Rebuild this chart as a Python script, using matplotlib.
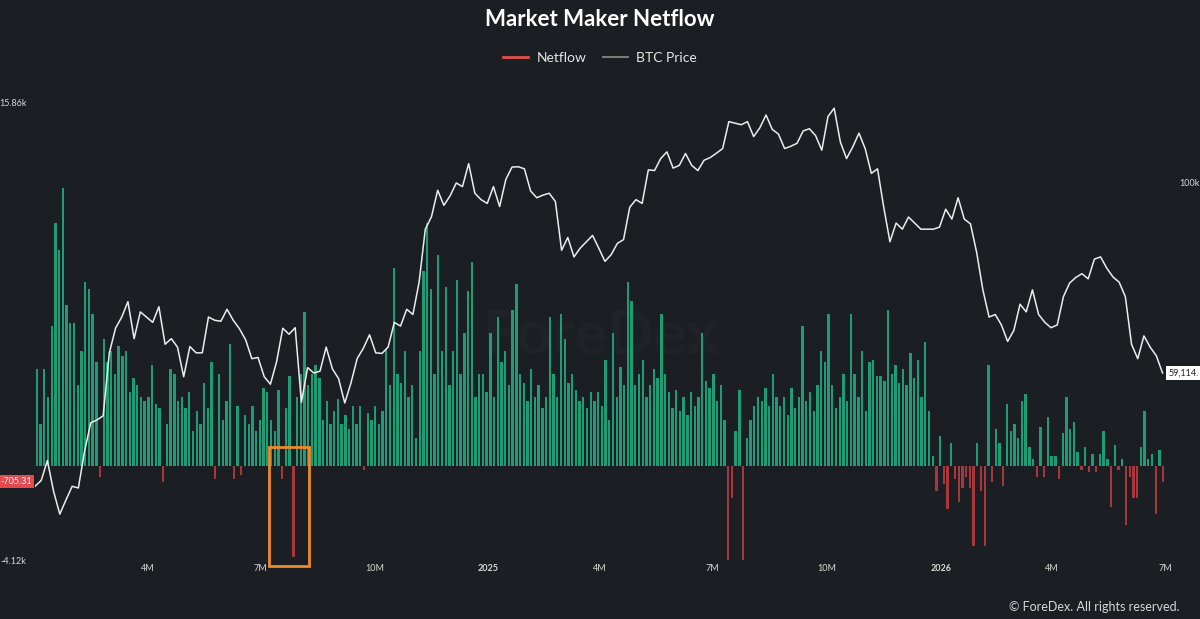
import matplotlib
matplotlib.use("Agg")
import matplotlib.dates as mdates
import matplotlib.pyplot as plt
import matplotlib.transforms as mtransforms
import pandas as pd
from matplotlib.lines import Line2D
from matplotlib.patches import Rectangle
from matplotlib.ticker import NullFormatter, NullLocator

plt.rcParams["font.family"] = ["Lato", "DejaVu Sans"]

BG = "#1b1e22"
GREEN = "#1f9c74"
RED = "#a8373b"
TEXT = "#d8d8d8"

START = pd.Timestamp("2024-01-01")
END = pd.Timestamp("2026-07-01")

# netflow, thousands, one value per 3 days from 2024-01-01
netflow_k = [
    4.2, 1.8, 4.2, 3.0, 6.1, 10.6, 9.4, 12.1, 7.0, 6.2,
    6.2, 3.5, 5.0, 8.0, 7.7, 6.6, 4.5, -0.5, 5.5, 4.5,
    5.0, 4.0, 5.2, 4.8, 5.0, 3.2, 3.8, 3.5, 3.0, 2.8,
    3.0, 4.4, 2.7, 2.5, -0.7, 1.8, 4.2, 4.0, 2.8, 3.0,
    2.5, 3.2, 1.5, 2.4, 1.8, 3.6, 2.5, 4.5, -0.6, 4.0,
    2.0, 2.8, 5.3, -0.6, 2.6, -0.4, 2.2, 1.8, 2.6, 1.5,
    2.0, 3.4, 3.2, 2.0, 1.5, 3.3, -0.6, 2.5, 3.9, -4.0,
    3.0, 4.0, 6.7, 3.5, 4.0, 4.4, 3.8, 2.0, 2.8, 1.8,
    2.4, 2.9, 1.8, 2.2, 1.6, 2.6, 1.8, 2.6, -0.2, 2.3,
    2.0, 2.6, 1.8, 2.4, 5.1, 3.5, 8.6, 4.0, 3.6, 5.0,
    3.0, 3.5, 1.2, 5.0, 8.5, 10.6, 7.7, 4.0, 9.2, 5.0,
    7.8, 3.5, 5.0, 8.1, 4.0, 5.8, 7.6, 8.9, 3.0, 4.0,
    4.0, 3.2, 5.8, 3.0, 6.5, 4.5, 5.0, 3.5, 6.8, 7.9,
    4.0, 3.6, 2.8, 4.2, 3.0, 3.5, 2.5, 3.0, 6.5, 4.0,
    3.0, 6.6, 5.5, 3.6, 4.0, 3.3, 2.8, 3.0, 2.5, 3.2,
    2.8, 3.2, 2.6, 4.6, 2.0, 5.8, 3.0, 4.3, 3.5, 8.0,
    7.2, 3.5, 4.0, 4.6, 3.0, 3.5, 4.2, 3.8, 6.6, 4.0,
    3.2, 2.5, 3.3, 2.4, 3.0, 2.2, 3.2, 2.6, 3.0, 5.8,
    3.7, 3.4, 4.0, 2.8, 3.5, 2.0, -4.1, -1.4, 1.5, 3.3,
    -4.1, 1.2, 2.0, 2.6, 3.0, 2.8, 3.4, 2.6, 4.0, 3.0,
    2.6, 3.0, 2.2, 3.4, 2.5, 3.0, 6.1, 2.8, 3.2, 2.4,
    3.5, 5.0, 4.5, 6.6, 3.5, 2.5, 3.0, 4.0, 2.8, 6.6,
    4.0, 3.0, 5.0, 2.4, 4.5, 4.6, 3.9, 3.9, 3.7, 6.8,
    4.0, 4.4, 3.6, 4.2, 3.5, 4.9, 3.8, 4.6, 3.0, 5.4,
    2.4, 0.4, -1.1, 1.3, -0.8, -1.9, 1.0, -0.6, -1.6, -1.0,
    -0.5, -1.0, -3.5, 1.0, -1.1, -3.5, 4.4, -0.7, 1.6, 1.0,
    -0.9, 2.7, 1.5, 1.8, 1.2, 2.8, 3.1, 0.8, 0.3, -0.5,
    1.7, -0.5, 2.1, 0.4, 0.4, -0.6, 1.4, 3.0, 1.6, 1.9,
    0.6, -0.2, 0.8, -0.3, 0.5, -0.3, 0.5, 1.5, 0.3, -1.8,
    0.9, -0.2, 0.3, -2.6, -0.5, -1.4, -1.4, 0.8, 2.4, 0.3,
    0.5, -2.1, 0.7, -0.70531,
]

# BTC price, thousands USD, one value per 5 days from 2024-01-01
price_k = [
    43.2, 43.9, 46.4, 42.6, 40.0, 41.6, 43.2, 43.0, 47.6, 51.5,
    51.9, 52.5, 62.5, 66.9, 69.0, 72.0, 65.0, 70.0, 69.0, 68.0,
    71.0, 64.0, 65.0, 63.5, 58.5, 63.6, 62.5, 62.5, 69.0, 68.4,
    68.2, 70.5, 68.4, 66.8, 64.8, 61.5, 61.7, 58.5, 57.3, 61.0,
    66.9, 65.8, 67.0, 54.5, 60.0, 59.1, 59.4, 63.5, 59.8, 58.2,
    54.4, 57.5, 61.5, 63.3, 65.7, 62.5, 62.4, 63.5, 68.0, 67.3,
    70.5, 69.5, 76.0, 88.0, 91.1, 98.0, 94.0, 96.5, 100.0, 99.0,
    105.5, 97.2, 95.5, 94.5, 99.0, 93.7, 101.0, 104.5, 104.6, 104.0,
    97.8, 96.0, 96.7, 97.2, 95.0, 83.0, 86.0, 81.5, 83.5, 85.0,
    86.5, 83.5, 80.5, 82.0, 84.6, 85.5, 93.5, 95.5, 94.5, 103.7,
    103.5, 107.0, 109.0, 104.2, 105.0, 108.5, 105.0, 103.5, 106.5, 107.3,
    108.6, 110.0, 118.5, 118.0, 117.5, 118.5, 113.7, 116.5, 120.7, 116.0,
    114.5, 110.0, 110.7, 111.6, 115.5, 116.2, 114.0, 109.5,
    120.2, 123.0, 112.0, 107.0, 110.5, 114.8, 110.0, 102.7, 104.0, 93.5,
    85.0, 89.5, 88.0, 91.0, 89.5, 88.0, 88.0, 88.0, 88.5, 93.0,
    90.5, 96.0, 90.5, 89.3, 82.5, 74.4, 69.0, 69.5, 67.5, 64.5,
    66.5, 71.5, 70.0, 74.4, 69.5, 68.0, 67.0, 67.5, 73.0, 75.8,
    77.0, 77.8, 76.7, 81.0, 81.5, 79.0, 77.1, 76.0, 73.0, 64.0,
    61.5, 65.5, 63.5, 62.0, 59.114,
]

tick_dates = ["2024-04-01", "2024-07-01", "2024-10-01", "2025-01-01", "2025-04-01",
              "2025-07-01", "2025-10-01", "2026-01-01", "2026-04-01", "2026-07-01"]
tick_labels = ["4M", "7M", "10M", "2025", "4M", "7M", "10M", "2026", "4M", "7M"]

netflow_dates = pd.date_range(START + pd.Timedelta(hours=36), periods=len(netflow_k), freq="3D")
price_dates = pd.date_range(START, periods=len(price_k), freq="5D")

fig = plt.figure(figsize=(12, 6.19), dpi=100, facecolor=BG)
ax = fig.add_axes([35 / 1200, 1 - 560 / 619, 1130 / 1200, 458 / 619])
ax.set_facecolor(BG)

ax.text(0.5, 0.49, "ForeDex", transform=ax.transAxes, ha="center", va="center",
        fontsize=44, fontweight="bold", color="#1f2226", zorder=0)

colors = [GREEN if v >= 0 else RED for v in netflow_k]
ax.bar(netflow_dates, netflow_k, width=1.9, color=colors, linewidth=0, zorder=2)
ax.set_xlim(START, END)
ax.set_ylim(-4.12, 15.86)
ax.set_yticks([15.86, -4.12])
ax.set_yticklabels(["15.86k", "-4.12k"])
ax.set_xticks(pd.to_datetime(tick_dates))
ax.set_xticklabels(tick_labels)
for lab in ax.get_xticklabels():
    if lab.get_text() in ("2025", "2026"):
        lab.set_fontweight("bold")
ax.tick_params(axis="both", length=0, colors=TEXT, labelsize=6.5)
ax.tick_params(axis="x", pad=3)
ax.tick_params(axis="y", pad=6)
for lab in ax.get_yticklabels():
    lab.set_horizontalalignment("right")

# highlighted outflow
x0 = mdates.date2num(START + pd.Timedelta(days=189))
x1 = mdates.date2num(START + pd.Timedelta(days=221))
ax.add_patch(Rectangle((x0, -4.38), x1 - x0, 5.18, fill=False, ec="#ee8a2a",
                       lw=2, clip_on=False, zorder=5))

ax2 = ax.twinx()
ax2.plot(price_dates, price_k, color="#ececec", lw=1.1, zorder=3)
ax2.set_yscale("log")
ax2.set_ylim(35.23, 125.12)
ax2.yaxis.set_minor_locator(NullLocator())
ax2.yaxis.set_minor_formatter(NullFormatter())
ax2.set_yticks([100])
ax2.set_yticklabels(["100k"])
ax2.tick_params(axis="y", length=0, colors=TEXT, labelsize=6.5, pad=10)

for a in (ax, ax2):
    for s in a.spines.values():
        s.set_visible(False)

# last value tags
trans_l = mtransforms.blended_transform_factory(ax.transAxes, ax.transData)
ax.text(-0.003, netflow_k[-1], f"{netflow_k[-1] * 1000:.2f}", transform=trans_l,
        ha="right", va="center", fontsize=6.5, color="white", clip_on=False,
        bbox=dict(boxstyle="square,pad=0.25", fc="#e5484d", ec="none"))
trans_r = mtransforms.blended_transform_factory(ax2.transAxes, ax2.transData)
ax2.text(1.003, price_k[-1], f"{round(price_k[-1] * 1000):,}.", transform=trans_r,
         ha="left", va="center", fontsize=6.5, color="#222222", clip_on=False,
         bbox=dict(boxstyle="square,pad=0.25", fc="white", ec="none"))

fig.text(0.5, 1 - 20 / 619, "Market Maker Netflow", ha="center", va="center",
         fontsize=16, fontweight="bold", color="white")
handles = [Line2D([], [], color="#e0504d", lw=2), Line2D([], [], color="#7a7a7a", lw=1.5)]
fig.legend(handles, ["Netflow", "BTC Price"], loc="center", bbox_to_anchor=(0.5, 1 - 58 / 619),
           ncol=2, frameon=False, labelcolor="#e6e6e6", fontsize=10, handlelength=1.8,
           columnspacing=1.2, handletextpad=0.6)
fig.text(1180 / 1200, 1 - 607 / 619, "© ForeDex. All rights reserved.", ha="right",
         va="center", fontsize=9, color=TEXT)

fig.savefig("out.png", dpi=100, facecolor=BG)
